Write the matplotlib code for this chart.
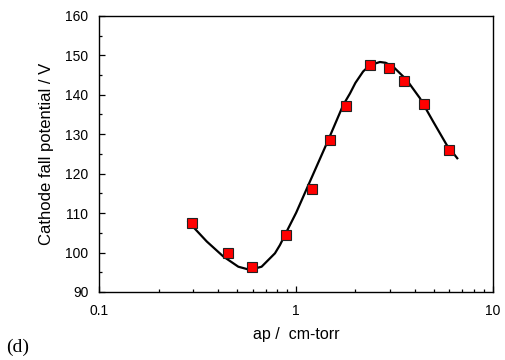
import numpy as np
import matplotlib
matplotlib.use("Agg")
import matplotlib.pyplot as plt
from matplotlib.ticker import LogLocator, MultipleLocator, FixedLocator

# ── Measured points (red squares) ────────────────────────────────────────────
ap_meas = [0.294, 0.45, 0.598, 0.887, 1.197, 1.49, 1.796, 2.37, 2.96, 3.54, 4.48, 5.98]
v_meas = [107.4, 100.0, 96.3, 104.5, 116.0, 128.5, 137.2, 147.5, 146.7, 143.5, 137.6, 126.0]

# ── Fitted curve ─────────────────────────────────────────────────────────────
ap_fit = [0.283, 0.351, 0.426, 0.508, 0.582, 0.667, 0.780, 0.827, 0.894, 1.0,
          1.13, 1.455, 1.734, 1.876, 2.0, 2.19, 2.37, 2.666, 2.85, 3.114, 3.64,
          4.26, 4.97, 5.82, 6.59]
v_fit = [107.8, 102.8, 99.0, 96.4, 95.6, 96.4, 99.8, 101.9, 105.3, 110.1,
         116.1, 128.5, 137.4, 140.3, 143.0, 145.9, 147.5, 148.3, 148.1, 147.1,
         143.8, 139.1, 133.2, 127.3, 123.9]

x_ticks = [0.1, 1, 10]
x_ticklabels = ["0.1", "1", "10"]

plt.rcParams["font.family"] = ["Liberation Sans", "DejaVu Sans"]

fig = plt.figure(figsize=(5.05, 3.6), dpi=100)
ax = fig.add_axes([0.197, 0.189, 0.779, 0.767])

ax.plot(ap_fit, v_fit, color="black", linewidth=1.6, zorder=2,
        solid_joinstyle="round")
ax.plot(ap_meas, v_meas, linestyle="none", marker="s", markersize=7.5,
        markerfacecolor="#ff0000", markeredgecolor="#222222",
        markeredgewidth=0.8, zorder=3)

ax.set_xscale("log")
ax.set_xlim(0.1, 10)
ax.set_ylim(90, 160)
ax.xaxis.set_major_locator(FixedLocator(x_ticks))
ax.set_xticklabels(x_ticklabels)
ax.xaxis.set_minor_locator(LogLocator(base=10, subs=np.arange(2, 10)))
ax.xaxis.set_minor_formatter(plt.NullFormatter())
ax.yaxis.set_major_locator(MultipleLocator(10))
ax.yaxis.set_minor_locator(MultipleLocator(5))

ax.tick_params(which="both", direction="in", top=False, right=False,
               labelsize=10, width=0.9)
ax.tick_params(which="major", length=4.5)
ax.tick_params(which="minor", length=2.5)
ax.tick_params(axis="x", pad=9)
ax.tick_params(axis="y", pad=8)
for s in ax.spines.values():
    s.set_linewidth(1.0)

ax.set_xlabel("ap /  cm-torr", fontsize=11.5, labelpad=6)
ax.set_ylabel("Cathode fall potential / V", fontsize=12, labelpad=8)

fig.text(0.012, 0.035, "(d)", fontsize=14, family=["Liberation Serif", "DejaVu Serif"],
         va="center", ha="left")

fig.savefig("out.png", dpi=100)
plt.close(fig)
